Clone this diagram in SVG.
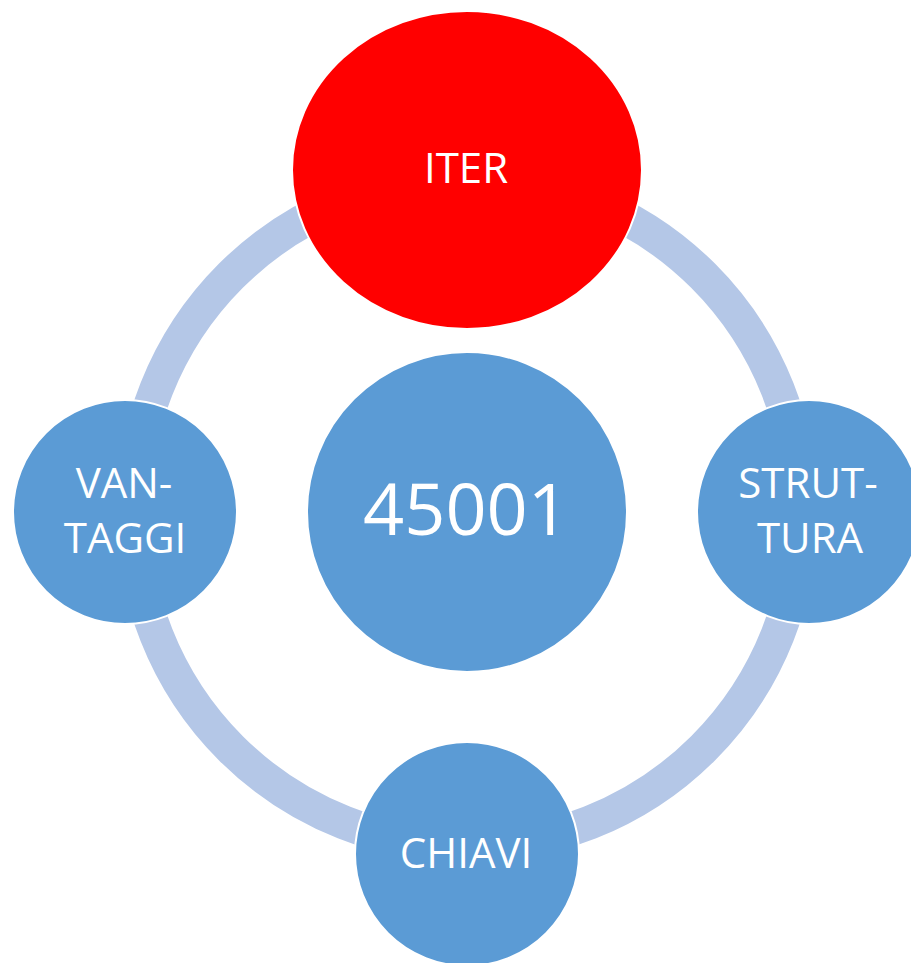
<svg xmlns="http://www.w3.org/2000/svg" width="911" height="963" viewBox="0 0 911 963">
  <style>
    .ring { fill: none; stroke: #B4C7E7; stroke-width: 34; }
    .node { fill: #5B9BD5; stroke: #FFFFFF; stroke-width: 2; }
    .hot { fill: #FF0000; stroke: #FFFFFF; stroke-width: 2; }
    .lbl { font-family: "Open Sans", "Liberation Sans", sans-serif; font-size: 42px; fill: #FFFFFF; text-anchor: middle; }
    .big { font-size: 72px; }
  </style>
  <rect width="911" height="963" fill="#FFFFFF"/>
  <g id="connectors">
    <path class="ring" d="M 467 178 A 334 334 0 0 1 801 512"/>
    <path class="ring" d="M 801 512 A 334 334 0 0 1 467 846"/>
    <path class="ring" d="M 467 846 A 334 334 0 0 1 133 512"/>
    <path class="ring" d="M 133 512 A 334 334 0 0 1 467 178"/>
  </g>
  <g id="node-center">
    <circle class="node" cx="467" cy="512" r="160"/>
    <text class="lbl big" x="466" y="535">45001</text>
  </g>
  <g id="node-iter">
    <ellipse class="hot" cx="467" cy="170" rx="175" ry="159"/>
    <text class="lbl" x="466" y="183">ITER</text>
  </g>
  <g id="node-struttura">
    <circle class="node" cx="809" cy="512" r="112"/>
    <text class="lbl" x="808" y="498">STRUT-</text>
    <text class="lbl" x="810" y="553">TURA</text>
  </g>
  <g id="node-chiavi">
    <circle class="node" cx="467" cy="854" r="112"/>
    <text class="lbl" x="466" y="868">CHIAVI</text>
  </g>
  <g id="node-vantaggi">
    <circle class="node" cx="125" cy="512" r="112"/>
    <text class="lbl" x="124" y="498">VAN-</text>
    <text class="lbl" x="125" y="553">TAGGI</text>
  </g>
</svg>
